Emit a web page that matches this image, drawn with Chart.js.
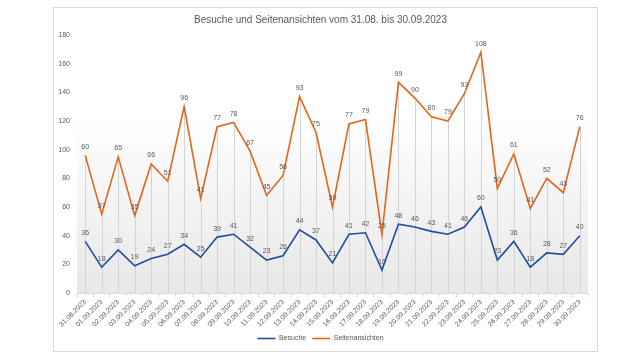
<!DOCTYPE html>
<html>
<head>
<meta charset="utf-8">
<script src="https://cdn.jsdelivr.net/npm/chart.js@4.4.1/dist/chart.umd.min.js"></script>
<style>
  html, body { margin: 0; padding: 0; background: #fff; }
  #wrap { width: 640px; height: 360px; position: relative; }
</style>
</head>
<body>
<div id="wrap"><canvas id="chart"></canvas></div>
<script>
// Tage vom 31.08. bis 30.09.2023
const days = [
    '31.08.2023', '01.09.2023', '02.09.2023', '03.09.2023', '04.09.2023', '05.09.2023',
    '06.09.2023', '07.09.2023', '08.09.2023', '09.09.2023', '10.09.2023', '11.09.2023',
    '12.09.2023', '13.09.2023', '14.09.2023', '15.09.2023', '16.09.2023', '17.09.2023',
    '18.09.2023', '19.09.2023', '20.09.2023', '21.09.2023', '22.09.2023', '23.09.2023',
    '24.09.2023', '25.09.2023', '26.09.2023', '27.09.2023', '28.09.2023', '29.09.2023',
    '30.09.2023'
];
const besuche = [36, 18, 30, 19, 24, 27, 34, 25, 39, 41, 32, 23, 26, 44, 37, 21, 41, 42, 16, 48,
                 46, 43, 41, 46, 60, 23, 36, 18, 28, 27, 40];
const seitenansichten = [60, 37, 65, 35, 66, 51, 96, 41, 77, 78, 67, 45, 56, 93, 75, 39, 77, 79, 25, 99,
                         90, 80, 79, 93, 108, 50, 61, 41, 52, 43, 76];
const yTicks = [0, 20, 40, 60, 80, 100, 120, 140, 160, 180];

const TEXT = '#595959';
const FONT = "'Liberation Sans', Arial, sans-serif";

// frame + plot background gradient
const backdrop = {
    id: 'backdrop',
    beforeDraw(chart) {
        const { ctx, chartArea: a } = chart;
        ctx.save();
        ctx.strokeStyle = '#d9d9d9';
        ctx.lineWidth = 1;
        ctx.strokeRect(53.5, 7.5, 544, 344);
        const g = ctx.createLinearGradient(0, a.top, 0, a.bottom);
        g.addColorStop(0, '#ffffff');
        g.addColorStop(0.3, '#ffffff');
        g.addColorStop(1, '#e8e8e8');
        ctx.fillStyle = g;
        ctx.fillRect(a.left, a.top, a.right - a.left, a.bottom - a.top);
        ctx.restore();
    }
};

// drop lines from the top series down to the axis
const dropLines = {
    id: 'dropLines',
    beforeDatasetsDraw(chart) {
        const { ctx, chartArea: a } = chart;
        const meta = chart.getDatasetMeta(1);
        ctx.save();
        ctx.strokeStyle = '#d4d4d4';
        ctx.lineWidth = 1;
        meta.data.forEach(p => {
            const x = Math.round(p.x) + 0.5;
            ctx.beginPath();
            ctx.moveTo(x, p.y);
            ctx.lineTo(x, a.bottom);
            ctx.stroke();
        });
        ctx.restore();
    }
};

// value labels above each point
const valueLabels = {
    id: 'valueLabels',
    afterDatasetsDraw(chart) {
        const { ctx } = chart;
        ctx.save();
        ctx.fillStyle = TEXT;
        ctx.font = '7px ' + FONT;
        ctx.textAlign = 'center';
        ctx.textBaseline = 'bottom';
        chart.data.datasets.forEach((ds, i) => {
            chart.getDatasetMeta(i).data.forEach((p, j) => {
                ctx.fillText(String(ds.data[j]), p.x, p.y - 5);
            });
        });
        ctx.restore();
    }
};

new Chart(document.getElementById('chart'), {
    type: 'line',
    data: {
        labels: days,
        datasets: [
            {
                label: 'Besuche',
                data: besuche,
                borderColor: '#1f4e9e',
                backgroundColor: '#1f4e9e',
                borderWidth: 1.6,
                pointRadius: 0,
                tension: 0,
                fill: false,
            },
            {
                label: 'Seitenansichten',
                data: seitenansichten,
                borderColor: '#e2661c',
                backgroundColor: '#e2661c',
                borderWidth: 1.6,
                pointRadius: 0,
                tension: 0,
                fill: false,
            },
        ],
    },
    options: {
        responsive: true,
        maintainAspectRatio: false,
        animation: false,
        layout: { padding: { left: 53, right: 52, top: 7, bottom: 8 } },
        plugins: {
            title: {
                display: true,
                text: 'Besuche und Seitenansichten vom 31.08. bis 30.09.2023',
                color: TEXT,
                font: { family: FONT, size: 10, weight: 'normal' },
                padding: { top: 7, bottom: 9 },
            },
            legend: {
                position: 'bottom',
                labels: {
                    color: TEXT,
                    font: { family: FONT, size: 7 },
                    usePointStyle: true,
                    pointStyle: 'line',
                    pointStyleWidth: 18,
                    padding: 6,
                },
            },
            tooltip: { enabled: false },
        },
        scales: {
            x: {
                offset: true,
                grid: {
                    display: true,
                    offset: true,
                    drawOnChartArea: false,
                    drawTicks: true,
                    tickLength: 4,
                    color: '#d9d9d9',
                },
                border: { display: true, color: '#d9d9d9' },
                ticks: {
                    color: TEXT,
                    font: { family: FONT, size: 7 },
                    minRotation: 45,
                    maxRotation: 45,
                    autoSkip: false,
                    padding: 1,
                },
                afterFit(scale) { scale.height = 36; },
            },
            y: {
                stacked: true,
                min: 0,
                max: 180,
                grid: { display: false, drawTicks: false },
                border: { display: false },
                afterBuildTicks(scale) { scale.ticks = yTicks.map(v => ({ value: v })); },
                ticks: {
                    color: TEXT,
                    font: { family: FONT, size: 7 },
                    padding: 7,
                },
                afterFit(scale) { scale.width = 24; },
            },
        },
    },
    plugins: [backdrop, dropLines, valueLabels],
});
</script>
</body>
</html>
